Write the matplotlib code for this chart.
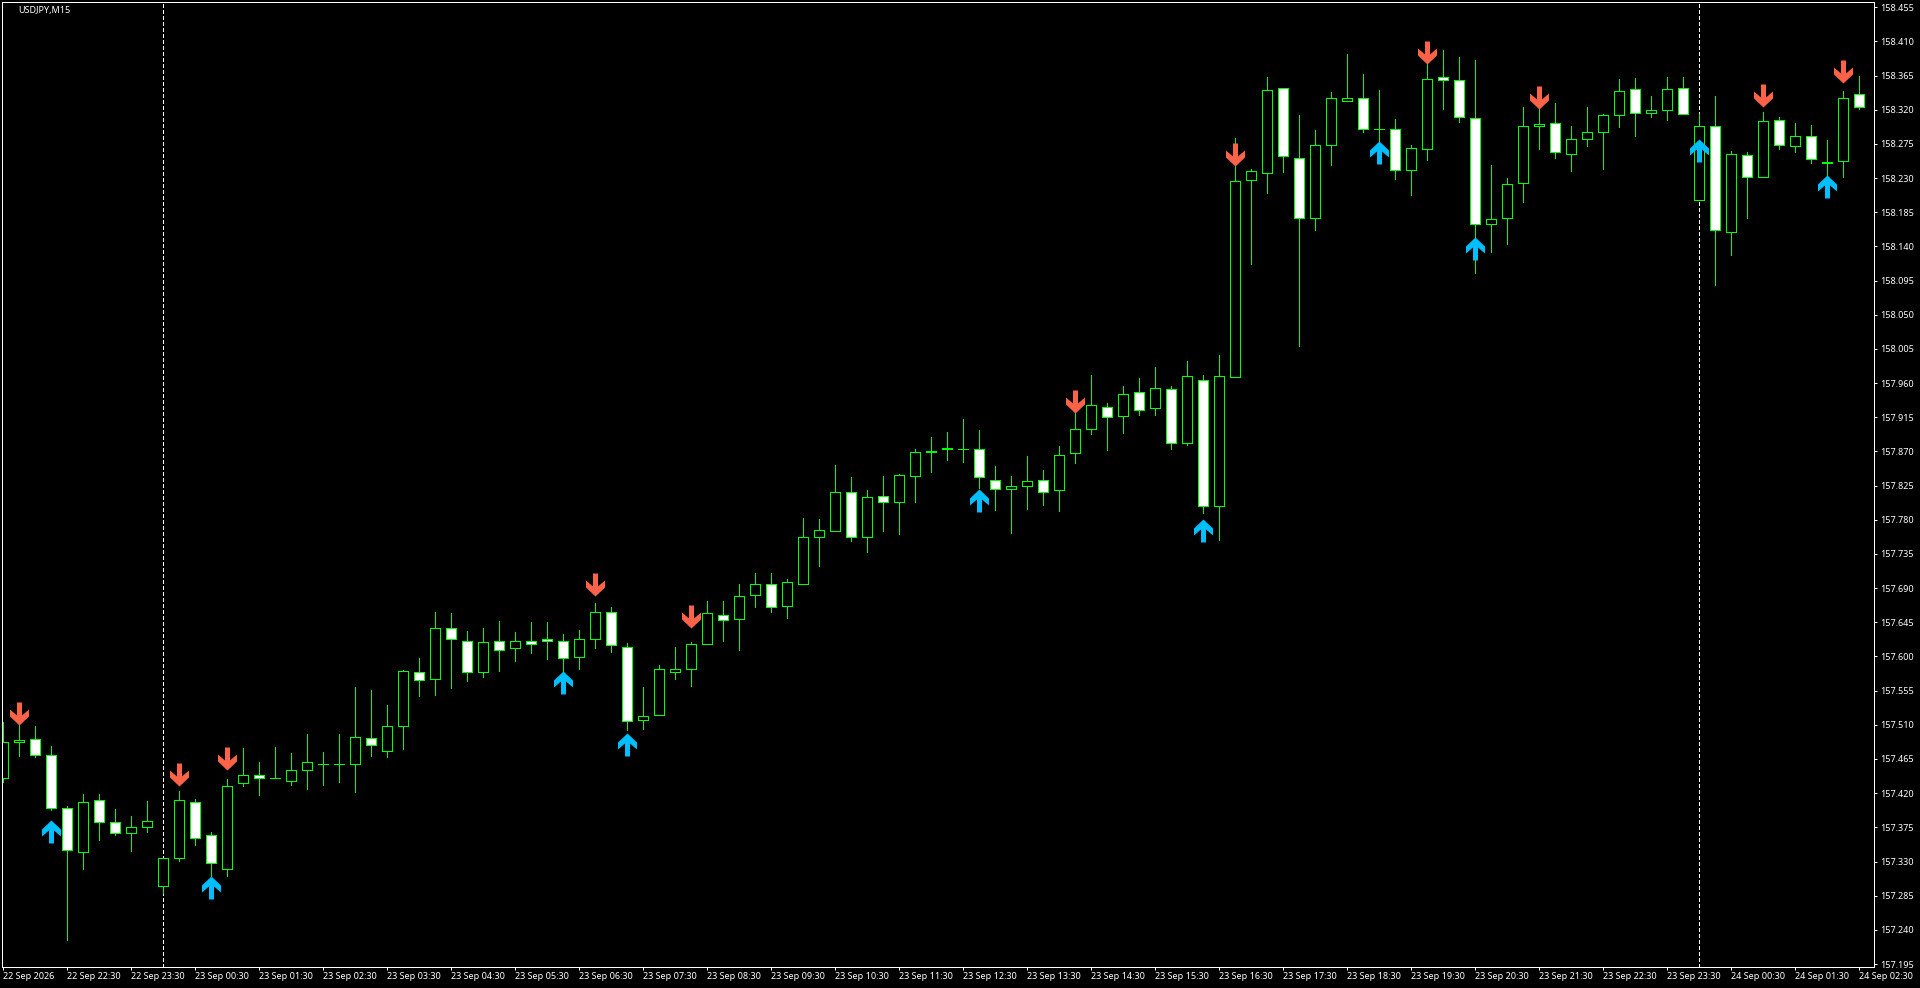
import matplotlib
matplotlib.use("Agg")
import matplotlib.pyplot as plt
from matplotlib.path import Path

opens = [157.440,157.487,157.491,157.470,157.401,157.342,157.411,157.382,157.368,157.375,
         157.298,157.334,157.408,157.365,157.320,157.433,157.444,157.440,157.436,157.451,
         157.459,157.459,157.459,157.492,157.476,157.509,157.580,157.570,157.637,157.621,
         157.579,157.620,157.611,157.620,157.623,157.621,157.599,157.623,157.659,157.613,
         157.516,157.523,157.580,157.584,157.617,157.654,157.650,157.681,157.696,157.666,
         157.695,157.757,157.765,157.816,157.757,157.811,157.803,157.837,157.870,157.875,
         157.873,157.873,157.833,157.820,157.824,157.832,157.819,157.868,157.899,157.929,
         157.916,157.948,157.927,157.952,157.881,157.964,157.798,157.968,158.228,158.236,
         158.348,158.257,158.177,158.274,158.332,158.335,158.294,158.295,158.240,158.268,
         158.363,158.359,158.309,158.169,158.177,158.223,158.298,158.302,158.262,158.282,
         158.290,158.313,158.347,158.315,158.319,158.348,158.201,158.298,158.159,158.260,
         158.232,158.306,158.272,158.285,158.251,158.253,158.340]
highs = [157.514,157.510,157.508,157.482,157.403,157.419,157.419,157.399,157.390,157.410,
         157.334,157.423,157.412,157.369,157.439,157.479,157.461,157.481,157.473,157.498,
         157.474,157.498,157.560,157.556,157.536,157.582,157.598,157.659,157.657,157.634,
         157.637,157.647,157.632,157.645,157.645,157.630,157.635,157.670,157.665,157.618,
         157.560,157.589,157.612,157.619,157.673,157.673,157.695,157.710,157.710,157.702,
         157.782,157.781,157.852,157.836,157.819,157.838,157.840,157.873,157.889,157.896,
         157.913,157.898,157.851,157.838,157.864,157.846,157.877,157.925,157.971,157.934,
         157.956,157.967,157.981,157.956,157.989,157.971,157.997,158.283,158.242,158.363,
         158.349,158.313,158.293,158.343,158.393,158.367,158.346,158.308,158.273,158.381,
         158.399,158.389,158.385,158.247,158.230,158.324,158.321,158.329,158.299,158.324,
         158.314,158.360,158.362,158.338,158.363,158.363,158.314,158.338,158.266,158.264,
         158.317,158.310,158.302,158.300,158.280,158.345,158.364]
lows = [157.435,157.469,157.468,157.398,157.226,157.320,157.358,157.365,157.344,157.369,
        157.289,157.331,157.352,157.311,157.311,157.430,157.418,157.440,157.431,157.425,
        157.431,157.435,157.422,157.469,157.468,157.478,157.548,157.549,157.558,157.568,
        157.573,157.581,157.594,157.605,157.597,157.581,157.583,157.611,157.606,157.503,
        157.505,157.523,157.570,157.561,157.617,157.620,157.609,157.665,157.659,157.651,
        157.695,157.719,157.765,157.752,157.738,157.765,157.761,157.803,157.843,157.859,
        157.856,157.822,157.793,157.763,157.794,157.799,157.792,157.855,157.893,157.872,
        157.894,157.918,157.918,157.873,157.878,157.789,157.753,157.968,158.117,158.210,
        158.238,158.009,158.162,158.247,158.332,158.291,158.277,158.229,158.208,158.254,
        158.321,158.304,158.105,158.133,158.143,158.198,158.268,158.256,158.239,158.272,
        158.242,158.297,158.285,158.310,158.306,158.314,158.201,158.089,158.129,158.177,
        158.231,158.268,158.264,158.250,158.234,158.231,158.321]
closes = [157.487,157.490,157.470,157.401,157.345,157.408,157.382,157.368,157.375,157.384,
          157.334,157.411,157.361,157.328,157.430,157.444,157.440,157.440,157.451,157.461,
          157.459,157.458,157.494,157.484,157.509,157.581,157.569,157.638,157.623,157.579,
          157.619,157.609,157.620,157.617,157.621,157.598,157.623,157.659,157.615,157.515,
          157.521,157.583,157.583,157.617,157.657,157.648,157.679,157.696,157.665,157.698,
          157.757,157.766,157.816,157.757,157.810,157.803,157.839,157.869,157.869,157.873,
          157.873,157.836,157.820,157.825,157.831,157.817,157.865,157.900,157.931,157.915,
          157.945,157.924,157.953,157.881,157.969,157.798,157.969,158.226,158.239,158.346,
          158.259,158.177,158.273,158.335,158.335,158.294,158.294,158.240,158.269,158.360,
          158.359,158.310,158.169,158.176,158.222,158.298,158.301,158.264,158.282,158.290,
          158.313,158.344,158.316,158.319,158.347,158.314,158.298,158.161,158.262,158.232,
          158.305,158.273,158.286,158.255,158.250,158.335,158.323]

sell_bars = [1, 11, 14, 37, 43, 67, 77, 89, 96, 110, 115]
sell_tips = [157.510, 157.429, 157.450, 157.679, 157.637, 157.921, 158.246, 158.380, 158.321, 158.324, 158.355]
buy_bars = [3, 13, 35, 39, 61, 75, 86, 92, 106, 114]
buy_tips = [157.385, 157.311, 157.581, 157.499, 157.820, 157.781, 158.279, 158.153, 158.281, 158.234]

separator_bars = [10, 106]
price_ticks = ["158.455","158.410","158.365","158.320","158.275","158.230","158.185","158.140","158.095",
               "158.050","158.005","157.960","157.915","157.870","157.825","157.780","157.735","157.690",
               "157.645","157.600","157.555","157.510","157.465","157.420","157.375","157.330","157.285",
               "157.240","157.195"]
time_ticks = ["22 Sep 2026","22 Sep 22:30","22 Sep 23:30","23 Sep 00:30","23 Sep 01:30","23 Sep 02:30",
              "23 Sep 03:30","23 Sep 04:30","23 Sep 05:30","23 Sep 06:30","23 Sep 07:30","23 Sep 08:30",
              "23 Sep 09:30","23 Sep 10:30","23 Sep 11:30","23 Sep 12:30","23 Sep 13:30","23 Sep 14:30",
              "23 Sep 15:30","23 Sep 16:30","23 Sep 17:30","23 Sep 18:30","23 Sep 19:30","23 Sep 20:30",
              "23 Sep 21:30","23 Sep 22:30","23 Sep 23:30","24 Sep 00:30","24 Sep 01:30","24 Sep 02:30"]
title = "USDJPY,M15"

W, H, DPI = 1920, 988, 100
PX = 72 / DPI
LIME, WHITE = "#00FF00", "#FFFFFF"
plt.rcParams["font.family"] = ["Noto Sans", "DejaVu Sans"]
plt.rcParams["lines.scale_dashes"] = False

fig = plt.figure(figsize=(W / DPI, H / DPI), dpi=DPI, facecolor="black")
ax = fig.add_axes([2 / W, (H - 967) / H, 1872 / W, 965 / H], facecolor="black")
ax.set_xlim(-0.0625, 116.94)
ax.set_ylim(157.1911, 158.4618)

xs = list(range(len(opens)))
ax.vlines(xs, lows, highs, color=LIME, lw=PX, antialiased=False, zorder=2)
bottoms = [min(o, c) for o, c in zip(opens, closes)]
heights = [abs(o - c) for o, c in zip(opens, closes)]
faces = [WHITE if c < o else "black" for o, c in zip(opens, closes)]
ax.bar(xs, heights, bottom=bottoms, width=10 / 16, color=faces, edgecolor=LIME, linewidth=PX * 1.0,
       antialiased=False, zorder=3)

for b in separator_bars:
    ax.axvline(b, color=WHITE, lw=PX, ls=(0, (3.6 * PX, 2.4 * PX)), antialiased=False, zorder=1)

# arrow shapes, origin on the tip, 19 px wide and 23 px long
body = [(-2.5, 23), (2.5, 23), (2.5, 10), (9.5, 16), (9.5, 9), (0, 0), (-9.5, 9), (-9.5, 16), (-2.5, 10), (-2.5, 23)]
down_arrow = Path(body, closed=True)
up_arrow = Path([(x, -y) for x, y in body], closed=True)
ax.plot(sell_bars, sell_tips, ls="none", marker=down_arrow, ms=46 * PX, mfc="#FF6347", mec="none", zorder=4)
ax.plot(buy_bars, buy_tips, ls="none", marker=up_arrow, ms=46 * PX, mfc="#00BFFF", mec="none", zorder=4)

for s in ax.spines.values():
    s.set_color(WHITE)
    s.set_linewidth(PX)
    s.set_zorder(5)

ax.yaxis.tick_right()
ax.set_yticks([float(t) for t in price_ticks], price_ticks)
ax.tick_params(axis="y", colors=WHITE, length=3 * PX, width=PX, pad=2.2, labelsize=6.5)
ax.set_xticks(list(range(0, 117, 4)) if False else [0] + list(range(4, 117, 4)), time_ticks)
ax.tick_params(axis="x", colors=WHITE, length=3 * PX, width=PX, pad=1.6, labelsize=6.5)
for lab in ax.get_xticklabels():
    lab.set_ha("left")

fig.text(18 / W, 1 - 10.5 / H, title, color=WHITE, fontsize=6.5, ha="left", va="center")
fig.savefig("out.png", dpi=DPI, facecolor="black")
